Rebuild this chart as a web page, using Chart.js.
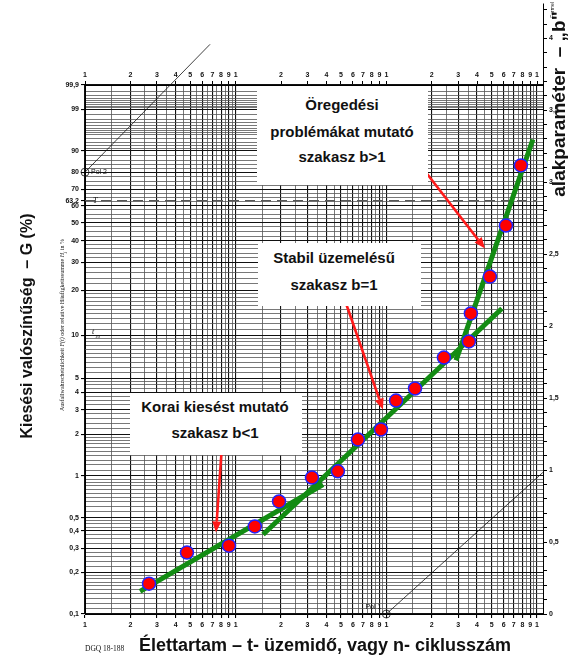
<!DOCTYPE html>
<html>
<head>
<meta charset="utf-8">
<script src="https://cdn.jsdelivr.net/npm/chart.js@4.4.0/dist/chart.umd.min.js"></script>
<style>
  html, body { margin: 0; padding: 0; background: #fff; }
  #wrap { position: relative; width: 568px; height: 658px; overflow: hidden; font-family: "Liberation Sans", Arial, sans-serif; color: #111; }
  #chart { position: absolute; left: 0; top: 0; }
  .box { position: absolute; background: #fff; }
  .ln { position: absolute; white-space: nowrap; font-weight: bold; font-size: 15px; line-height: 18px; transform: translate(-50%, -50%); }
  .rot { position: absolute; white-space: nowrap; transform: translate(-50%, -50%) rotate(-90deg); }
  .serif { font-family: "Liberation Serif", "Times New Roman", serif; }
</style>
</head>
<body>
<div id="wrap">
  <canvas id="chart" width="568" height="658"></canvas>

  <div class="box" style="left:257px; top:86px; width:171px; height:99px;"></div>
  <div class="ln" style="left:342px; top:105px;">Öregedési</div>
  <div class="ln" style="left:342px; top:132px;">problémákat mutató</div>
  <div class="ln" style="left:342px; top:157px;">szakasz b&gt;1</div>

  <div class="box" style="left:258px; top:243px; width:163px; height:63px;"></div>
  <div class="ln" style="left:334px; top:258px;">Stabil üzemelésű</div>
  <div class="ln" style="left:334px; top:285px;">szakasz b=1</div>

  <div class="box" style="left:130px; top:393px; width:172px; height:62px;"></div>
  <div class="ln" style="left:215px; top:407px;">Korai kiesést mutató</div>
  <div class="ln" style="left:215px; top:433px;">szakasz b&lt;1</div>

  <div class="rot" style="left:27px; top:326px; font-size:16px; font-weight:bold;">Kiesési valószínűség &nbsp;– G (%)</div>
  <div class="rot serif" style="left:63px; top:325px; font-size:6px;">Ausfallwahrscheinlichkeit <i>F(t)</i> oder relative Häufigkeitssumme <i>H<sub>j</sub></i> in %</div>
  <div class="rot" style="left:559px; top:104px; font-size:19px; font-weight:bold;">alakparaméter &nbsp;– „b"</div>
  <div class="rot" style="left:552px; top:10px; font-size:5px;">Formel</div>
  <div style="position:absolute; left:325px; top:645px; transform:translate(-50%,-50%); white-space:nowrap; font-size:18px; font-weight:bold;">Élettartam – t- üzemidő, vagy n- ciklusszám</div>
  <div class="serif" style="position:absolute; left:85px; top:644px; font-size:7.5px; white-space:nowrap;">DGQ 18-188</div>
</div>

<script>
// --- Données (t = durée de vie, G = probabilité de défaillance en %) ---
const failT = [2.66, 4.75, 9.03, 13.4, 19.4, 32.1, 47.7, 64.8, 92.1, 116, 155, 241, 353, 364, 487, 622, 782];
const failG = [0.166, 0.279, 0.313, 0.431, 0.654, 0.974, 1.08, 1.83, 2.16, 3.48, 4.24, 7.01, 9.07, 14.1, 24.5, 48.3, 83.5];

// droites d'ajustement (début / fin)
const earlyLineT = [2.32, 38.0];
const earlyLineG = [0.146, 0.867];
const stableLineT = [15.2, 585];
const stableLineG = [0.377, 15.2];
const agingLineT = [290, 939];
const agingLineG = [6.69, 93.8];

// droites des pôles
const pol2LineT = [1, 6.76];
const pol2LineG = [80, 99.99988];
const pol1LineT = [100, 1094];
const pol1LineG = [0.1, 1.06];
const charLineT = [1, 1000];
const charLineG = [63.2, 63.2];

// flèches rouges (départ -> pointe)
const arrowFromT = [143, 51.5, 8.1];
const arrowFromG = [89.7, 18.8, 1.63];
const arrowToT = [451, 94.9, 7.4];
const arrowToG = [36.2, 3.0, 0.39];

// étiquettes des axes
const yLabelValues = [0.1, 0.2, 0.3, 0.4, 0.5, 1, 2, 3, 4, 5, 10, 20, 30, 40, 50, 60, 63.2, 70, 80, 90, 99, 99.9];
const xDecades = [1, 10, 100];
const xSteps = [1, 1.5, 2, 2.5, 3, 3.5, 4, 4.5, 5, 5.5, 6, 6.5, 7, 7.5, 8, 8.5, 9, 9.5];
const bLabelValues = [0, 0.5, 1, 1.5, 2, 2.5, 3, 3.5];
const bExtraTicks = [3.7, 3.8, 3.9, 4.0, 4.1, 4.2];

// lignes horizontales du papier : [début, fin, pas]
const yGridRanges = [[0.1, 0.2, 0.01], [0.2, 0.3, 0.02], [0.3, 0.5, 0.025], [0.5, 1, 0.05], [1, 2, 0.1],
  [2, 3, 0.2], [3, 5, 0.25], [5, 10, 0.5], [10, 20, 1], [20, 40, 2], [40, 60, 2.5], [60, 80, 2.5],
  [80, 90, 2], [90, 95, 1], [95, 99, 0.5], [99, 99.9, 0.1]];

const X_MAX = 3.0398;   // un peu au-delà de 1000 pour l'axe de droite
const B_MAX = 3.674;
const B_TOP = 4.24;

const weib = g => Math.log(-Math.log(1 - g / 100));
const lg = t => Math.log10(t);
const fmt = v => String(v).replace('.', ',');
const toXY = (ts, gs) => ts.map((t, i) => ({ x: lg(t), y: weib(gs[i]) }));

// --- construction des grilles ---
const yGrid = [];
yGridRanges.forEach(([a, b, s]) => {
  const n = Math.round((b - a) / s);
  for (let i = 0; i < n; i++) {
    const g = Math.round((a + i * s) * 1000) / 1000;
    yGrid.push({ g, label: '', major: false });
  }
});
yGrid.push({ g: 99.9, label: '', major: true });
yGrid.push({ g: 63.2, label: '', major: false, hidden: true });
yGrid.forEach(e => {
  if (yLabelValues.includes(e.g)) { e.label = fmt(e.g); e.major = true; }
});
yGrid.sort((p, q) => p.g - q.g);

const xGrid = [];
xDecades.forEach(d => xSteps.forEach(k => {
  const isInt = Number.isInteger(k);
  xGrid.push({ pos: lg(k * d), label: isInt ? String(k) : '', major: isInt });
}));
xGrid.push({ pos: 3, label: '1', major: true });
const xTop = xGrid.filter(e => e.major);

const bTicks = [];
for (let i = 0; i <= 36; i++) bTicks.push(i / 10);

const tickFont = { family: '"Liberation Sans", Arial, sans-serif', size: 7, weight: 'bold' };

// --- plugin : flèches, textes des pôles, prolongement de l'axe b ---
const extrasPlugin = {
  id: 'extras',
  afterDatasetsDraw(chart) {
    const { ctx, scales } = chart;
    const px = t => scales.x.getPixelForValue(lg(t));
    const py = g => scales.y.getPixelForValue(weib(g));

    ctx.save();
    ctx.strokeStyle = '#ff1a1a';
    ctx.fillStyle = '#ff1a1a';
    ctx.lineWidth = 2.6;
    arrowFromT.forEach((t, i) => {
      const x0 = px(t), y0 = py(arrowFromG[i]);
      const x1 = px(arrowToT[i]), y1 = py(arrowToG[i]);
      const ang = Math.atan2(y1 - y0, x1 - x0);
      const hl = 11, hw = 4.5;
      const bx = x1 - hl * Math.cos(ang), by = y1 - hl * Math.sin(ang);
      ctx.beginPath();
      ctx.moveTo(x0, y0);
      ctx.lineTo(bx, by);
      ctx.stroke();
      ctx.beginPath();
      ctx.moveTo(x1, y1);
      ctx.lineTo(bx + hw * Math.sin(ang), by - hw * Math.cos(ang));
      ctx.lineTo(bx - hw * Math.sin(ang), by + hw * Math.cos(ang));
      ctx.closePath();
      ctx.fill();
    });

    // petits textes du papier
    ctx.fillStyle = '#111';
    ctx.font = '7px "Liberation Sans", Arial, sans-serif';
    ctx.textBaseline = 'middle';
    ctx.textAlign = 'left';
    ctx.fillText('Pol 2', px(pol2LineT[0]) + 6, py(pol2LineG[0]));
    ctx.textAlign = 'right';
    ctx.fillText('Pol 1', px(pol1LineT[0]) - 5, py(pol1LineG[0]) - 7);
    ctx.textAlign = 'left';
    ctx.font = 'italic 8px "Liberation Serif", serif';
    ctx.fillText('T', px(1) + 8, py(63.2));
    ctx.fillText('t', px(1) + 7, py(10) - 3);
    ctx.font = 'italic 5px "Liberation Serif", serif';
    ctx.fillText('10', px(1) + 10, py(10) + 1);
    ctx.restore();
  },
  afterDraw(chart) {
    const { ctx, chartArea } = chart;
    const sb = chart.scales.yb;
    const x0 = chartArea.right;
    ctx.save();
    ctx.strokeStyle = '#000';
    ctx.lineWidth = 1;
    ctx.beginPath();
    ctx.moveTo(x0 + 0.5, chartArea.top);
    ctx.lineTo(x0 + 0.5, sb.getPixelForValue(B_TOP));
    bExtraTicks.forEach(b => {
      const y = Math.round(sb.getPixelForValue(b)) + 0.5;
      ctx.moveTo(x0, y);
      ctx.lineTo(x0 + 4, y);
    });
    ctx.stroke();
    ctx.fillStyle = '#111';
    ctx.font = 'bold 7px "Liberation Sans", Arial, sans-serif';
    ctx.textBaseline = 'middle';
    ctx.fillText('4', x0 + 6, sb.getPixelForValue(4));
    ctx.restore();
  }
};

const greenLine = (ts, gs) => ({
  data: toXY(ts, gs),
  showLine: true,
  borderColor: '#138c13',
  borderWidth: 5,
  pointRadius: 0,
  borderCapStyle: 'butt'
});

const thinLine = (ts, gs, extra) => Object.assign({
  data: toXY(ts, gs),
  showLine: true,
  borderColor: '#111',
  borderWidth: 0.8,
  pointRadius: 0
}, extra);

new Chart(document.getElementById('chart'), {
  type: 'scatter',
  data: {
    datasets: [
      {
        data: toXY(failT, failG),
        pointRadius: 6.5,
        pointBackgroundColor: '#ff0000',
        pointBorderColor: '#2222ff',
        pointBorderWidth: 1.5
      },
      greenLine(earlyLineT, earlyLineG),
      greenLine(stableLineT, stableLineG),
      greenLine(agingLineT, agingLineG),
      thinLine(pol2LineT, pol2LineG, {
        clip: false,
        pointRadius: [4, 0],
        pointBackgroundColor: 'rgba(0,0,0,0)',
        pointBorderColor: '#111',
        pointBorderWidth: 0.8
      }),
      thinLine(pol1LineT, pol1LineG, {
        clip: false,
        pointRadius: [4, 0],
        pointBackgroundColor: 'rgba(0,0,0,0)',
        pointBorderColor: '#111',
        pointBorderWidth: 0.8
      }),
      thinLine(charLineT, charLineG, { borderDash: [10, 6], borderColor: '#555', borderWidth: 1.2 })
    ]
  },
  options: {
    responsive: false,
    animation: false,
    devicePixelRatio: 1,
    layout: { padding: 0 },
    plugins: { legend: { display: false }, tooltip: { enabled: false } },
    scales: {
      x: {
        type: 'linear', position: 'bottom', min: 0, max: X_MAX,
        afterBuildTicks: s => { s.ticks = xGrid.map(e => ({ value: e.pos })); },
        afterFit: s => { s.height = 44; },
        ticks: {
          autoSkip: false, maxRotation: 0, minRotation: 0, padding: 3,
          font: tickFont, color: '#111',
          callback: (v, i) => xGrid[i] ? xGrid[i].label : ''
        },
        grid: {
          tickLength: 4,
          color: c => (xGrid[c.index] && xGrid[c.index].major) ? '#111' : '#555',
          lineWidth: c => (xGrid[c.index] && xGrid[c.index].major) ? 1.1 : 0.8,
          tickColor: c => (xGrid[c.index] && xGrid[c.index].major) ? '#000' : 'rgba(0,0,0,0)'
        },
        border: { color: '#000', width: 1 }
      },
      x2: {
        type: 'linear', position: 'top', min: 0, max: X_MAX,
        afterBuildTicks: s => { s.ticks = xTop.map(e => ({ value: e.pos })); },
        afterFit: s => { s.height = 85; },
        ticks: {
          autoSkip: false, maxRotation: 0, minRotation: 0, padding: 2,
          font: tickFont, color: '#111',
          callback: (v, i) => xTop[i] ? xTop[i].label : ''
        },
        grid: { drawOnChartArea: false, tickLength: 4, tickColor: '#000' },
        border: { color: '#000', width: 1 }
      },
      y: {
        type: 'linear', position: 'left', min: weib(0.1), max: weib(99.9),
        afterBuildTicks: s => { s.ticks = yGrid.map(e => ({ value: weib(e.g) })); },
        afterFit: s => { s.width = 85; },
        ticks: {
          autoSkip: false, padding: 2,
          font: tickFont, color: '#111',
          callback: (v, i) => yGrid[i] ? yGrid[i].label : ''
        },
        grid: {
          tickLength: 4,
          color: c => {
            const e = yGrid[c.index];
            if (!e || e.hidden) return 'rgba(0,0,0,0)';
            return e.major ? '#111' : '#555';
          },
          lineWidth: c => (yGrid[c.index] && yGrid[c.index].major) ? 1.1 : 0.8,
          tickColor: c => (yGrid[c.index] && yGrid[c.index].label) ? '#000' : 'rgba(0,0,0,0)'
        },
        border: { color: '#000', width: 1 }
      },
      yb: {
        type: 'linear', position: 'right', min: 0, max: B_MAX,
        afterBuildTicks: s => { s.ticks = bTicks.map(v => ({ value: v })); },
        afterFit: s => { s.width = 25; },
        ticks: {
          autoSkip: false, padding: 2,
          font: tickFont, color: '#111',
          callback: v => bLabelValues.some(b => Math.abs(b - v) < 1e-6) ? fmt(v) : ''
        },
        grid: { drawOnChartArea: false, tickLength: 4, tickColor: '#000' },
        border: { color: '#000', width: 1 }
      }
    }
  },
  plugins: [extrasPlugin]
});
</script>
</body>
</html>
